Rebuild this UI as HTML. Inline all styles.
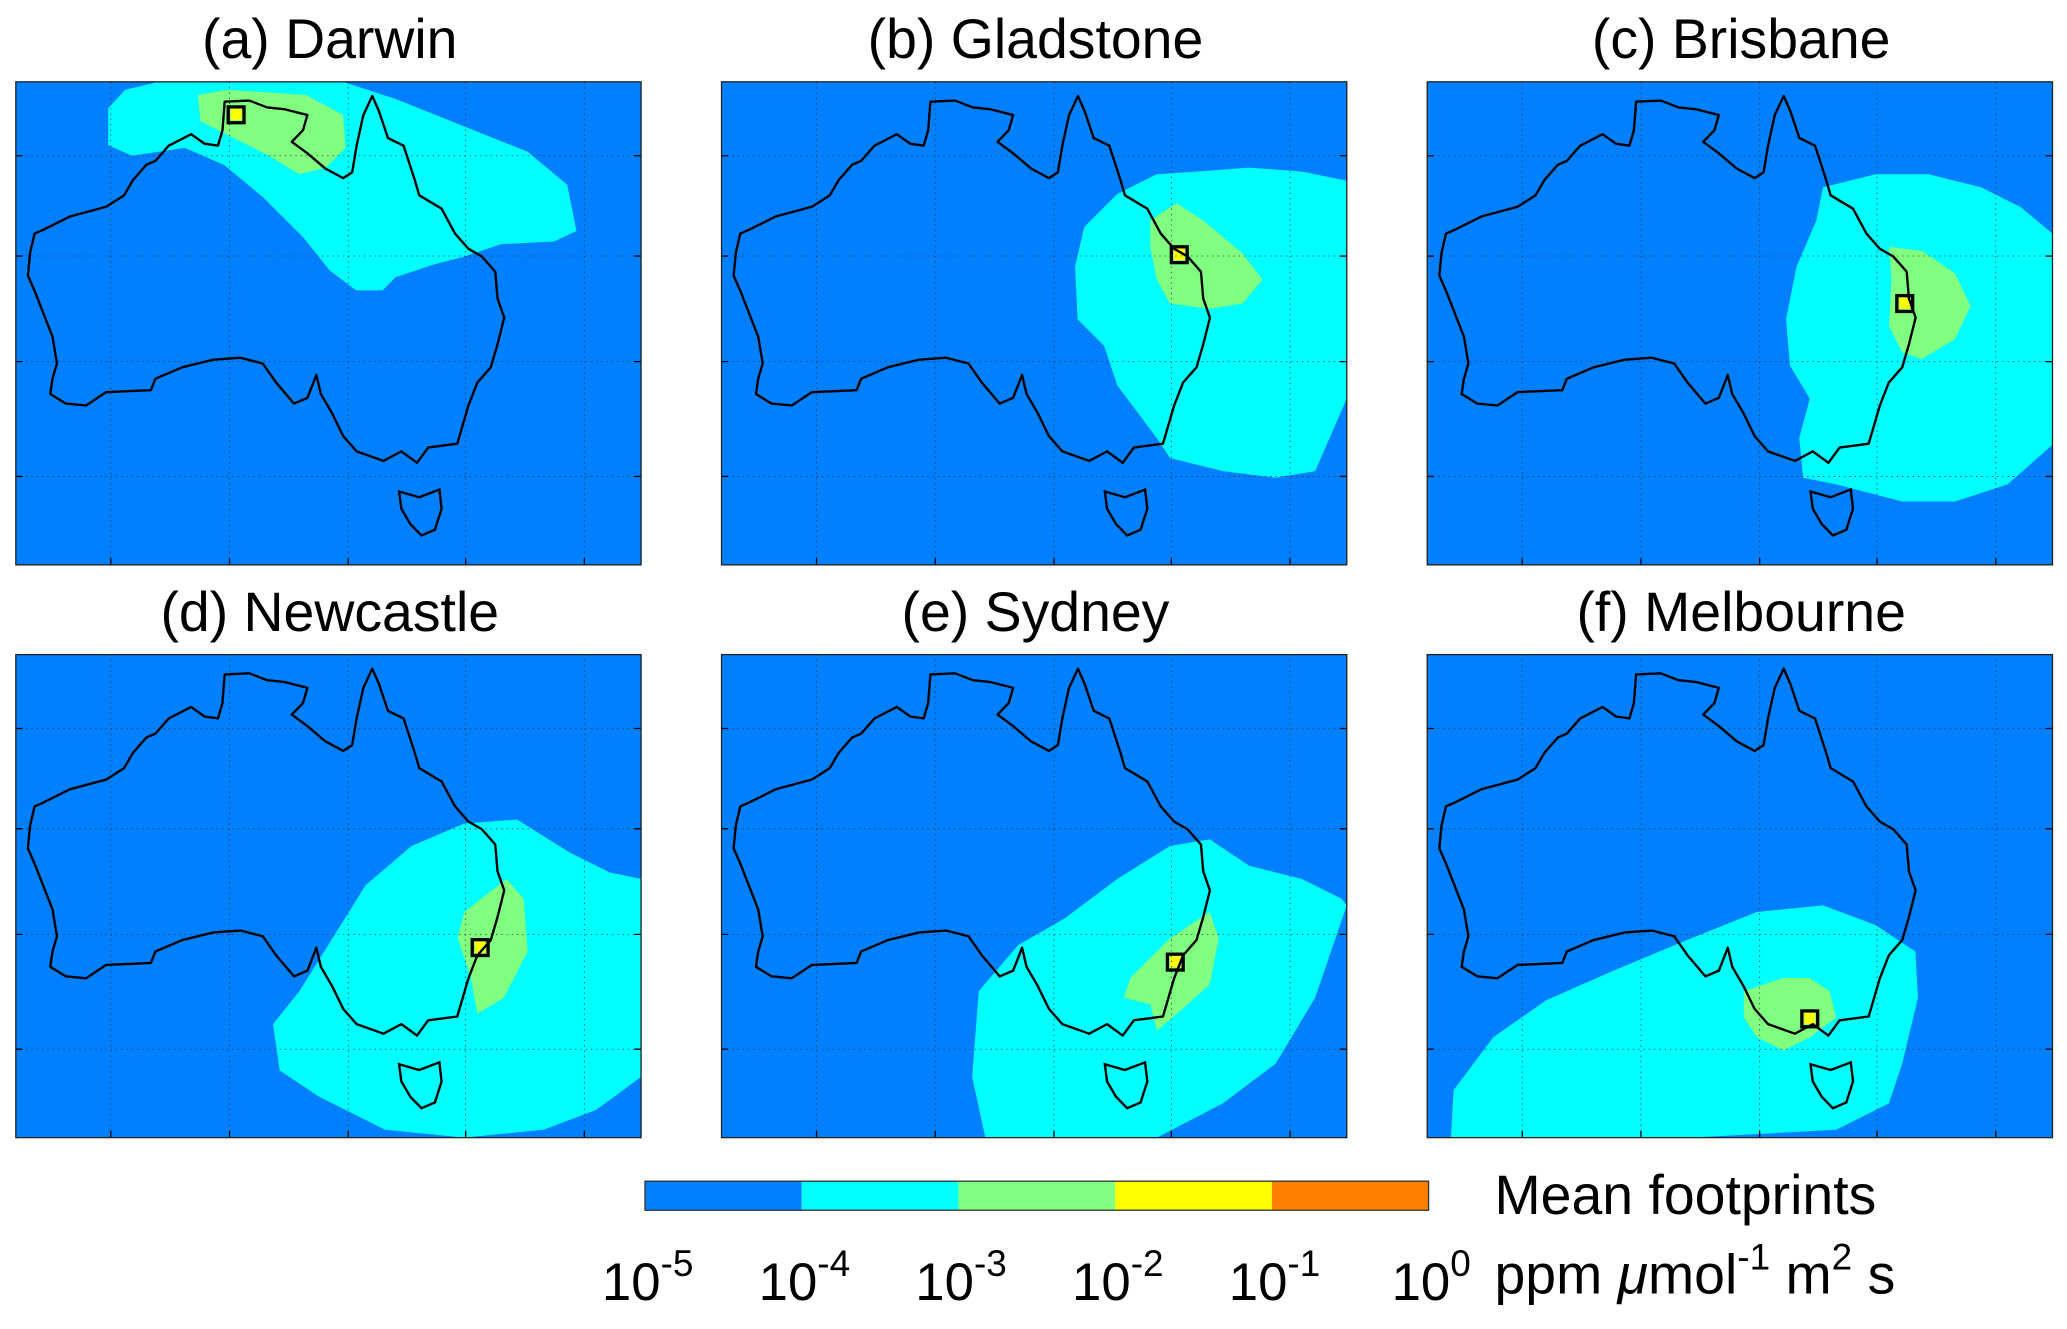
<!DOCTYPE html>
<html><head><meta charset="utf-8"><style>
html,body{margin:0;padding:0;background:#fff;}
svg{display:block;}
text{font-family:"Liberation Sans",sans-serif;fill:#000;}
</style></head><body>
<svg id="fig" width="2067" height="1329" viewBox="0 0 1567 1007" preserveAspectRatio="none" xmlns="http://www.w3.org/2000/svg"></svg>
<script>
// ---- data ----
const stations = ["(a) Darwin","(b) Gladstone","(c) Brisbane","(d) Newcastle","(e) Sydney","(f) Melbourne"];
const stationX = [167,347,362,352,344,290];
const stationY = [25,131,168,222,233,276];
const binColors = ["#0080ff","#00ffff","#80ff80","#ffff00","#ff8000"];
const binExps = ["-5","-4","-3","-2","-1","0"];
const cyanRegions = [
 [[70,20],[83,6],[108,0],[248,0],[288,13],[338,33],[388,53],[418,78],[425,113],[408,121],[368,123],[338,133],[318,138],[288,148],[278,158],[258,158],[238,143],[218,118],[188,88],[158,63],[128,50],[88,56],[70,48]],
 [[300,85],[330,70],[360,68],[400,65],[440,68],[474,75],[474,240],[450,295],[420,300],[380,295],[340,285],[330,270],[300,230],[290,200],[270,180],[268,140],[275,110]],
 [[300,80],[340,70],[380,70],[420,80],[450,95],[474,115],[474,275],[440,305],[400,318],[360,318],[310,305],[285,300],[282,270],[290,240],[275,215],[272,180],[280,140],[295,105]],
 [[195,280],[215,255],[240,215],[265,175],[300,145],[340,128],[380,125],[420,150],[450,165],[474,170],[474,320],[440,345],[400,360],[340,366],[280,360],[230,335],[200,315]],
 [[195,255],[225,220],[260,200],[300,170],[340,145],[370,140],[400,160],[440,170],[470,185],[474,190],[450,260],[420,310],[380,340],[330,366],[200,366],[190,320]],
 [[18,366],[20,330],[50,290],[90,262],[140,240],[200,215],[250,195],[300,190],[340,205],[370,225],[372,260],[360,310],[350,340],[310,360],[200,366]]
];
const greenRegions = [
 [[138,10],[160,6],[220,10],[248,25],[250,50],[235,65],[215,70],[190,55],[160,40],[140,30]],
 [[325,105],[345,92],[365,105],[395,130],[410,150],[395,168],[370,172],[340,168],[330,150],[325,125]],
 [[350,125],[375,128],[400,145],[412,170],[400,195],[375,210],[360,205],[350,185],[352,150]],
 [[340,195],[372,170],[385,185],[388,225],[370,260],[350,272],[345,245],[335,215]],
 [[310,245],[340,215],[370,195],[377,215],[370,250],[350,268],[330,285],[325,265],[305,260]],
 [[240,255],[270,245],[290,245],[305,255],[310,275],[290,290],[270,300],[250,290],[240,275]]
];
const coast = [[505,265],[560,262],[600,280],[640,285],[690,300],[680,340],[655,370],[690,400],[730,440],[770,465],[790,450],[800,380],[815,300],[835,250],[850,290],[870,360],[905,380],[930,470],[940,510],[990,545],[1020,610],[1050,650],[1080,670],[1110,710],[1115,780],[1130,830],[1115,900],[1100,960],[1070,1000],[1050,1060],[1040,1100],[1025,1160],[960,1170],[935,1210],[900,1180],[860,1205],[800,1180],[770,1140],[745,1080],[720,1030],[710,980],[690,1040],[660,1055],[620,1000],[590,950],[540,935],[480,940],[410,960],[350,990],[340,1020],[240,1025],[195,1060],[150,1055],[115,1030],[120,990],[130,950],[120,880],[100,820],[80,760],[65,720],[70,660],[80,610],[100,600],[160,565],[240,540],[280,510],[300,470],[330,430],[350,420],[380,380],[430,350],[460,375],[490,380],[500,340]];
const tas = [[895,1285],[940,1300],[985,1280],[990,1330],[975,1385],[945,1400],[920,1370],[900,1330]];
// ---- layout ----
const NS="http://www.w3.org/2000/svg";
const svg=document.getElementById('fig');
const PW=474, PH=366;
const panelX=[12,547,1082], panelY=[62,496];
const gridX=[72,162,252,341,431], gridY=[56,132,212,299];
function mk(tag,attrs,parent){const e=document.createElementNS(NS,tag);for(const k in attrs)e.setAttribute(k,attrs[k]);(parent||svg).appendChild(e);return e;}
function cx(p){return (p[0]-38)/1398*PW;} function cy(p){return (p[1]-213)/1264*PH;}
const pts=a=>a.map(p=>p[0]+','+p[1]).join(' ');
stations.forEach((name,i)=>{
  const ox=panelX[i%3], oy=panelY[Math.floor(i/3)];
  const g=mk('g',{transform:`translate(${ox},${oy})`});
  
  
  const clip=mk('clipPath',{id:'c'+i},g); mk('rect',{x:0,y:0,width:PW,height:PH},clip);
  const bg=mk('rect',{x:0,y:0,width:PW,height:PH,fill:binColors[0]},g);
  
  
  const inner=mk('g',{'clip-path':`url(#c${i})`},g);
  const cyan=mk('polygon',{points:pts(cyanRegions[i]),fill:binColors[1]},inner);
  
  
  const gr=mk('polygon',{points:pts(greenRegions[i]),fill:binColors[2]},inner);
  
  
  const ye=mk('rect',{x:stationX[i]-4,y:stationY[i]-6,width:8,height:10,fill:binColors[3]},inner);
  
  
  gridX.forEach(x=>{mk('line',{x1:x,y1:0,x2:x,y2:PH,stroke:'#333','stroke-width':0.6,'stroke-dasharray':'1,3'},inner);mk('line',{x1:x,y1:PH,x2:x,y2:PH-5,stroke:'#000','stroke-width':1},inner);});
  gridY.forEach(y=>{mk('line',{x1:0,y1:y,x2:PW,y2:y,stroke:'#333','stroke-width':0.6,'stroke-dasharray':'1,3'},inner);mk('line',{x1:0,y1:y,x2:5,y2:y,stroke:'#000'},inner);mk('line',{x1:PW-5,y1:y,x2:PW,y2:y,stroke:'#000'},inner);});
  const c=mk('polygon',{points:coast.map(p=>cx(p)+','+cy(p)).join(' '),fill:'none',stroke:'#000','stroke-width':1.8,'stroke-linejoin':'round'},inner);
  
  
  const t=mk('polygon',{points:tas.map(p=>cx(p)+','+cy(p)).join(' '),fill:'none',stroke:'#000','stroke-width':1.8},inner);
  
  
  const st=mk('rect',{x:stationX[i]-6,y:stationY[i]-6,width:12,height:12,fill:'none',stroke:'#000','stroke-width':2.5},inner);
  
  
  const fr=mk('rect',{x:0,y:0,width:PW,height:PH,fill:'none',stroke:'#222','stroke-width':1},g);
  
  
  const tt=mk('text',{x:PW/2+1,y:-18,'text-anchor':'middle','font-size':42},g);
  tt.textContent=name;
  
  
});
// colorbar
const cb=mk('g',{});


const cbX=489, cbY=895, cbW=594, cbH=22, segW=cbW/binColors.length;
binColors.forEach((col,i)=>{
  const r=mk('rect',{x:cbX+i*segW,y:cbY,width:segW,height:cbH,fill:col},cb);
  
  
});
mk('rect',{x:cbX,y:cbY,width:cbW,height:cbH,fill:'none',stroke:'#333','stroke-width':1},cb);
binExps.forEach((e,i)=>{
  const t=mk('text',{x:cbX+i*segW+2,y:985,'text-anchor':'middle','font-size':40},cb);
  
  
  t.appendChild(document.createTextNode('10'));
  const s=mk('tspan',{dy:-18,'font-size':28},t); s.textContent=e;
});
const l1=mk('text',{x:1133,y:920,'font-size':42},cb);
l1.textContent='Mean footprints';


const l2=mk('text',{x:1133,y:980,'font-size':42},cb);


l2.innerHTML='ppm <tspan font-style="italic">μ</tspan>mol<tspan dy="-18" font-size="28">-1</tspan><tspan dy="18"> m</tspan><tspan dy="-18" font-size="28">2</tspan><tspan dy="18"> s</tspan>';
</script>
</body></html>
